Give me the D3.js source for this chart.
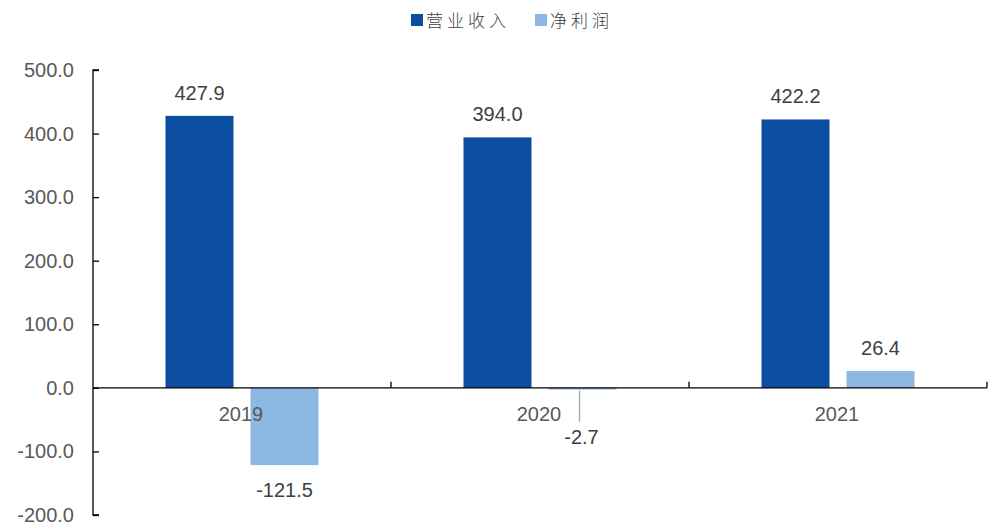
<!DOCTYPE html>
<html><head><meta charset="utf-8">
<script src="https://cdn.jsdelivr.net/npm/d3@7/dist/d3.min.js"></script>
<style>body{margin:0;background:#fff}svg{display:block}</style>
</head><body><svg id="c" width="992" height="529"></svg>
<script>
const categories = ["2019", "2020", "2021"];
const seriesNames = ["营业收入", "净利润"];
const revenue = [427.9, 394.0, 422.2];
const netProfit = [-121.5, -2.7, 26.4];
const yTicks = [-200, -100, 0, 100, 200, 300, 400, 500];
const colors = ["#0B4EA2", "#8DB8E2"];

(function () {
const svg = d3.select("#c");
const mLeft = 93, mRight = 987, mTop = 70, mBottom = 515;
const y = d3.scaleLinear().domain([-200, 500]).range([mBottom, mTop]);
const x = d3.scaleBand().domain(categories).range([mLeft, mRight]).padding(0);
const bw = x.bandwidth();
const inner = d3.scaleBand().domain([0, 1]).range([bw/2 - 76.5, bw/2 + 76.5]).paddingInner(0.2);
const series = [revenue, netProfit];
const font = "'Liberation Sans', Arial, sans-serif";
const txt = "#595959";

// bars
series.forEach((vals, si) => {
  svg.append("g").selectAll("rect").data(vals).join("rect")
    .attr("x", (d, i) => x(categories[i]) + inner(si))
    .attr("width", inner.bandwidth())
    .attr("y", d => y(Math.max(0, d)))
    .attr("height", d => Math.abs(y(d) - y(0)))
    .attr("fill", colors[si]);
});

// y axis
const yAxis = svg.append("g").attr("transform", `translate(${mLeft},0)`)
  .call(d3.axisRight(y).tickValues(yTicks).tickSize(6).tickFormat(""));
yAxis.select(".domain").attr("stroke", "#000").attr("stroke-width", 1.3).attr("d", `M6,${mTop}H0V${mBottom}H6`);
yAxis.selectAll(".tick line").attr("stroke", "#000").attr("stroke-width", 1.3);
svg.append("g").selectAll("text").data(yTicks).join("text")
  .attr("x", mLeft - 19).attr("y", d => y(d) + 7)
  .attr("text-anchor", "end").attr("font-family", font).attr("font-size", 20).attr("fill", txt)
  .text(d => d.toFixed(1));

// x axis line at 0
svg.append("line").attr("x1", mLeft).attr("x2", mRight).attr("y1", y(0)).attr("y2", y(0))
  .attr("stroke", "#000").attr("stroke-width", 1.3);
svg.append("g").selectAll("line").data(categories).join("line")
  .attr("x1", d => x(d) + bw).attr("x2", d => x(d) + bw)
  .attr("y1", y(0)).attr("y2", y(0) - 6).attr("stroke", "#000").attr("stroke-width", 1.3);

// value labels
series.forEach((vals, si) => {
  vals.forEach((d, i) => {
    const cx = x(categories[i]) + inner(si) + inner.bandwidth()/2;
    let ty;
    if (d >= 0) ty = y(d) - 16;
    else {
      ty = y(d) + 32;
      if (ty < y(0) + 50) {
        const ny = y(0) + 56;
        svg.append("line").attr("x1", cx - 3).attr("x2", cx - 3)
          .attr("y1", y(d) + 1).attr("y2", ny - 22)
          .attr("stroke", "#A6A6A6").attr("stroke-width", 1.3);
        svg.append("text").attr("x", cx - 1).attr("y", ny).attr("text-anchor", "middle")
          .attr("font-family", font).attr("font-size", 20).attr("fill", "#404040").text(d.toFixed(1));
        return;
      }
    }
    svg.append("text").attr("x", cx).attr("y", ty).attr("text-anchor", "middle")
      .attr("font-family", font).attr("font-size", 20).attr("fill", "#404040").text(d.toFixed(1));
  });
});

// category labels
svg.append("g").selectAll("text").data(categories).join("text")
  .attr("x", d => x(d) + bw/2 - 1).attr("y", y(0) + 33)
  .attr("text-anchor", "middle").attr("font-family", font).attr("font-size", 20).attr("fill", txt)
  .text(d => d);

// legend
const legX = [411, 535];
seriesNames.forEach((n, i) => {
  svg.append("rect").attr("x", legX[i]).attr("y", 14).attr("width", 12).attr("height", 12).attr("fill", colors[i]);
  svg.append("text").attr("x", legX[i] + 15).attr("y", 26.5)
    .attr("font-family", "'Noto Sans CJK SC', sans-serif").attr("font-size", 17).attr("font-weight", 300)
    .attr("letter-spacing", 4).attr("fill", "#404040").text(n);
});
})();
</script></body></html>
